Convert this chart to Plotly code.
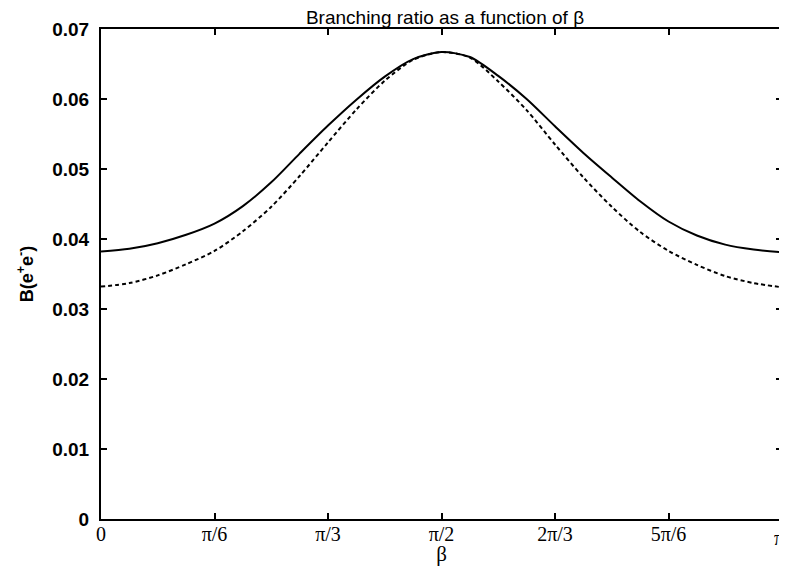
import math
import plotly.graph_objects as go

# beta sampled at k*pi/24
k_steps = list(range(25))
beta = [k * math.pi / 24 for k in k_steps]

solid_vals = [0.0382, 0.0386, 0.0394, 0.0406, 0.0422, 0.0447, 0.0481, 0.0522, 0.0562,
              0.0599, 0.0632, 0.0657, 0.0667, 0.0660, 0.0633, 0.0600, 0.0561, 0.0523,
              0.0488, 0.0454, 0.0425, 0.0405, 0.0392, 0.0385, 0.0381]
dashed_vals = [0.0332, 0.0337, 0.0348, 0.0364, 0.0383, 0.0411, 0.0446, 0.0490, 0.0538,
               0.0585, 0.0626, 0.0656, 0.0667, 0.0659, 0.0625, 0.0584, 0.0535, 0.0488,
               0.0446, 0.0410, 0.0383, 0.0363, 0.0347, 0.0337, 0.0331]

x_tickvals = [0, math.pi / 6, math.pi / 3, math.pi / 2, 2 * math.pi / 3, 5 * math.pi / 6, math.pi]
x_ticktext = ["0", "π/6", "π/3", "π/2", "2π/3", "5π/6", ""]
last_tick_label = "π"
y_tickvals = [0, 0.01, 0.02, 0.03, 0.04, 0.05, 0.06, 0.07]
y_ticktext = ["0", "0.01", "0.02", "0.03", "0.04", "0.05", "0.06", "0.07"]

fig = go.Figure()
fig.add_trace(go.Scatter(x=beta, y=solid_vals, mode="lines",
                         line=dict(color="black", width=2, shape="spline", smoothing=0.8),
                         showlegend=False))
fig.add_trace(go.Scatter(x=beta, y=dashed_vals, mode="lines",
                         line=dict(color="black", width=2, dash="4px,3px", shape="spline", smoothing=0.8),
                         showlegend=False))

# last tick label placed as an annotation so it stays inside the page
fig.add_annotation(x=x_tickvals[-1], y=0, xref="x", yref="y", text=last_tick_label,
                   showarrow=False, xanchor="right", yanchor="top", xshift=4, yshift=-6,
                   font=dict(family="Liberation Serif, Times New Roman", size=20, color="black"))

# the page adds an 8px body margin, so the figure is 8px smaller than the window
fig.update_layout(
    width=779, height=558,
    margin=dict(l=93, r=5, t=21, b=47),
    paper_bgcolor="white", plot_bgcolor="white",
    title=dict(text="Branching ratio as a function of β", x=0.561, xanchor="center",
               y=0.984, yanchor="middle", automargin=False,
               font=dict(family="Liberation Sans, Arial", size=19, color="black")),
    xaxis=dict(range=[0, math.pi], tickvals=x_tickvals, ticktext=x_ticktext,
               ticks="inside", ticklen=6, tickwidth=1.5, tickcolor="black",
               showline=True, linecolor="black", linewidth=2, mirror="ticks",
               showgrid=False, zeroline=False, automargin=False, ticklabeloverflow="allow",
               ticklabelstandoff=-4,
               tickfont=dict(family="Liberation Serif, Times New Roman", size=20, color="black"),
               title=dict(text="β", standoff=0,
                          font=dict(family="Liberation Serif, Times New Roman", size=21, color="black"))),
    yaxis=dict(range=[0, 0.07], tickvals=y_tickvals, ticktext=y_ticktext,
               ticks="inside", ticklen=6, tickwidth=1.5, tickcolor="black",
               showline=True, linecolor="black", linewidth=2, mirror="ticks",
               showgrid=False, zeroline=False, ticklabelstandoff=6, automargin=False,
               ticklabeloverflow="allow",
               tickfont=dict(family="Liberation Sans, Arial", size=19, color="black", weight="bold"),
               title=dict(text="B(e<sup>+</sup>e<sup>-</sup>)", standoff=14,
                          font=dict(family="Liberation Sans, Arial", size=18, color="black", weight="bold"))),
)

fig.write_html("out.html")
